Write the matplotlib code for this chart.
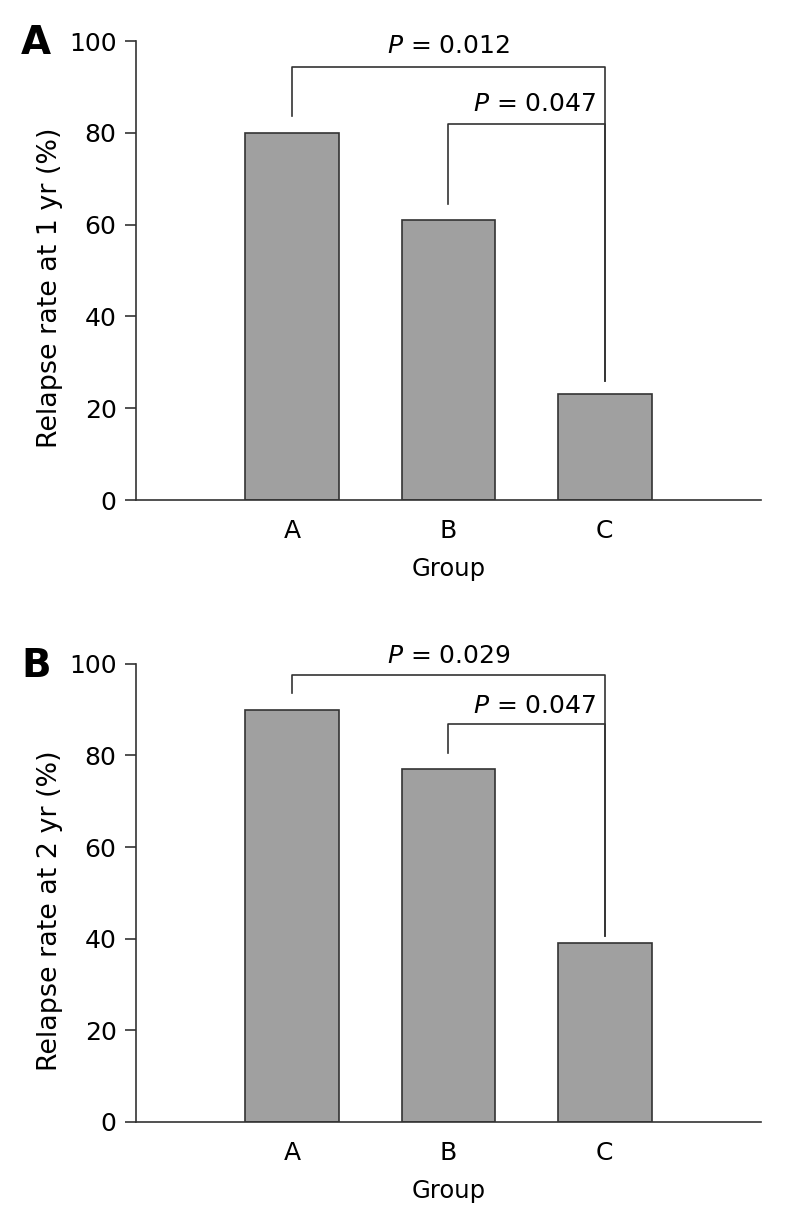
import matplotlib.pyplot as plt

groups = ['A', 'B', 'C']
rate_1yr = [80, 61, 23]
rate_2yr = [90, 77, 39]

# comparisons: (left group, right group, label, bracket height, left drop, right drop, text y)
brackets_1yr = [(0, 2, '0.012', 94.3, 83.6, 26.0, 98.9),
                (1, 2, '0.047', 81.9, 64.4, 26.0, 86.2)]
brackets_2yr = [(0, 2, '0.029', 97.6, 93.7, 40.6, 101.8),
                (1, 2, '0.047', 86.9, 80.6, 40.6, 90.8)]

plt.rcParams['font.family'] = 'DejaVu Sans'
line_col = '#333333'
bar_col = '#a0a0a0'

fig = plt.figure(figsize=(7.87, 12.27), dpi=100)
ax1 = fig.add_axes([0.1728, 0.5925, 0.794, 0.374])
ax2 = fig.add_axes([0.1728, 0.0856, 0.794, 0.3734])

pos = [1, 2, 3]
for ax, vals, brs, ylab, letter in [(ax1, rate_1yr, brackets_1yr, 'Relapse rate at 1 yr (%)', 'A'),
                                    (ax2, rate_2yr, brackets_2yr, 'Relapse rate at 2 yr (%)', 'B')]:
    ax.bar(pos, vals, width=0.6, color=bar_col, edgecolor=line_col, linewidth=1.2, zorder=2)
    ax.set_xlim(0, 4)
    ax.set_ylim(0, 100)
    ax.set_xticks(pos)
    ax.set_xticklabels(groups)
    ax.set_yticks([0, 20, 40, 60, 80, 100])
    ax.spines['top'].set_visible(False)
    ax.spines['right'].set_visible(False)
    for s in ['left', 'bottom']:
        ax.spines[s].set_color(line_col)
        ax.spines[s].set_linewidth(1.2)
    ax.tick_params(axis='x', direction='in', length=10, width=1.2, color=line_col,
                   labelsize=18, pad=14)
    ax.tick_params(axis='y', direction='out', length=8, width=1.2, color=line_col,
                   labelsize=18, pad=6)
    ax.set_xlabel('Group', fontsize=17.5, labelpad=10)
    ax.set_ylabel(ylab, fontsize=19.4)
    ax.yaxis.set_label_coords(-0.117, 0.462)
    for i, j, p, h, yl, yr, ty in brs:
        ax.plot([pos[i], pos[i], pos[j], pos[j]], [yl, h, h, yr], color=line_col,
                linewidth=1.2, clip_on=False, zorder=3)
        ax.text((pos[i] + pos[j]) / 2 + (0.05 if i == 1 else 0), ty, r'$P$ = ' + p,
                ha='center', va='center', fontsize=18, clip_on=False)
    ax.text(-0.16, 0.996, letter, transform=ax.transAxes, fontsize=28, fontweight='bold',
            ha='center', va='center')

fig.savefig('out.png', dpi=100)
